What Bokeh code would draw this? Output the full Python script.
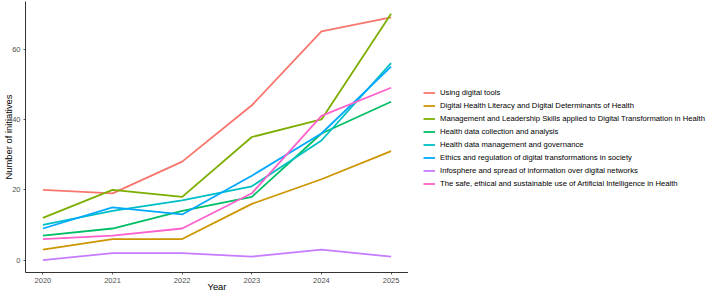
from bokeh.plotting import figure
from bokeh.models import Range1d, Legend, LegendItem, FixedTicker
from bokeh.layouts import row
from bokeh.embed import file_html
from bokeh.resources import INLINE

years = [2020, 2021, 2022, 2023, 2024, 2025]

series_names = [
    "Using digital tools",
    "Digital Health Literacy and Digital Determinants of Health",
    "Management and Leadership Skills applied to Digital Transformation in Health",
    "Health data collection and analysis",
    "Health data management and governance",
    "Ethics and regulation of digital transformations in society",
    "Infosphere and spread of information over digital networks",
    "The safe, ethical and sustainable use of Artificial Intelligence in Health",
]

using_digital_tools = [20, 19, 28, 44, 65, 69]
digital_health_literacy = [3, 6, 6, 16, 23, 31]
management_leadership = [12, 20, 18, 35, 40, 70]
data_collection = [7, 9, 14, 18, 36, 45]
data_management = [10, 14, 17, 21, 34, 56]
ethics_regulation = [9, 15, 13, 24, 36, 55]
infosphere = [0, 2, 2, 1, 3, 1]
safe_ai = [6, 7, 9, 19, 41, 49]

series_values = [
    using_digital_tools, digital_health_literacy, management_leadership,
    data_collection, data_management, ethics_regulation, infosphere, safe_ai,
]

colors = ["#F8766D", "#CD9600", "#7CAE00", "#00BE67",
          "#00BFC4", "#00A9FF", "#C77CFF", "#FF61CC"]

y_ticks = [0, 20, 40, 60]

FONT = "Liberation Sans"

p = figure(width=408, height=294, output_backend="svg", toolbar_location=None,
           x_range=Range1d(2019.75, 2025.25), y_range=Range1d(-3.5, 73.5),
           min_border_left=25, min_border_right=0, min_border_top=1,
           min_border_bottom=22)

p.outline_line_color = None
p.xgrid.visible = False
p.ygrid.visible = False
p.background_fill_color = "white"
p.border_fill_color = "white"

for vals, col in zip(series_values, colors):
    p.line(years, vals, line_color=col, line_width=1.8)

for ax in (p.xaxis[0], p.yaxis[0]):
    ax.axis_line_color = "black"
    ax.axis_line_width = 0.8
    ax.major_tick_line_color = "#333333"
    ax.major_tick_line_width = 0.8
    ax.major_tick_out = 2
    ax.major_tick_in = 0
    ax.minor_tick_line_color = None
    ax.major_label_text_font = FONT
    ax.major_label_text_font_size = "7.5px"
    ax.major_label_text_color = "#4D4D4D"
    ax.axis_label_text_font = FONT
    ax.axis_label_text_font_size = "9.4px"
    ax.axis_label_text_font_style = "normal"
    ax.axis_label_text_color = "black"

p.xaxis.ticker = FixedTicker(ticks=years)
p.yaxis.ticker = FixedTicker(ticks=y_ticks)
p.xaxis.axis_label = "Year"
p.yaxis.axis_label = "Number of initiatives"
p.xaxis.major_label_standoff = 3
p.xaxis.axis_label_standoff = -5
p.yaxis.major_label_standoff = 3
p.yaxis.axis_label_standoff = -5
p.yaxis.axis_label_text_line_height = 0.6

# legend panel (frame aligned with the main plot's frame)
q = figure(width=300, height=294, output_backend="svg", toolbar_location=None,
           x_range=Range1d(0, 1), y_range=Range1d(0, 1),
           min_border=0, outline_line_color=None)
q.axis.visible = False
q.xgrid.visible = False
q.ygrid.visible = False
items = []
for name, col in zip(series_names, colors):
    r = q.line([5, 6], [5, 6], line_color=col, line_width=1.8)
    items.append(LegendItem(label=name, renderers=[r]))

legend = Legend(items=items, location=(15, 82), orientation="vertical",
                padding=0, margin=0, spacing=0, glyph_width=12,
                glyph_height=13, label_height=13, label_standoff=5,
                label_text_font=FONT, label_text_font_size="7.7px",
                label_text_color="black", border_line_color=None,
                background_fill_alpha=0)
q.add_layout(legend)

layout = row(p, q, spacing=0)
open("out.html", "w").write(file_html(layout, INLINE))
